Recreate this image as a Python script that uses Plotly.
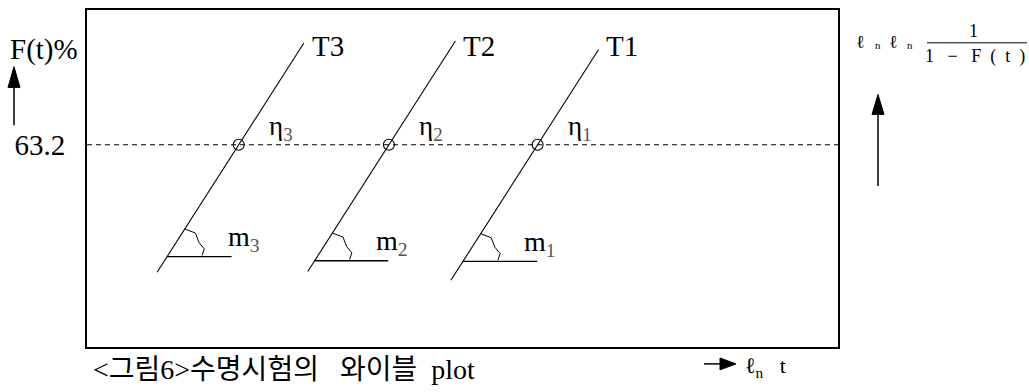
import math
import plotly.graph_objects as go

# Weibull probability plot: ln t on x, ln ln 1/(1-F(t)) on y
series = ["T1", "T2", "T3"]
eta_x = [6.00, 4.02, 2.02]          # ln(eta) for each stress level
slope_m = [1.74, 1.74, 1.74]        # Weibull shape parameter (line slope)
y_top = [1.41, 1.54, 1.51]          # upper end of each fitted line
y_bottom = [-2.01, -1.88, -1.89]    # lower end of each fitted line
y_base = [-1.73, -1.72, -1.66]      # level of the slope reference line
base_len = [0.99, 0.98, 0.86]       # length of the slope reference line
SUB = "<span style='color:#555'>{}</span>"
eta_labels = ["η<sub>" + SUB.format(k) + "</sub>" for k in ("1", "2", "3")]
m_labels = ["m<sub>" + SUB.format(k) + "</sub>" for k in ("1", "2", "3")]
F_level = 63.2                      # F(t) at t = eta, in percent
y_ref = math.log(math.log(1.0 / (1.0 - F_level / 100.0)))

X_RANGE = [0, 10]
Y_RANGE = [-3, 2]

W, H = 1029, 392
ML, MR, MT, MB = 87, 191, 8, 45
PW, PH = W - ML - MR, H - MT - MB
XPX = PW / (X_RANGE[1] - X_RANGE[0])
YPX = PH / (Y_RANGE[1] - Y_RANGE[0])

SERIF = "Liberation Serif, DejaVu Serif, serif"
KFONT = "Liberation Serif, Noto Sans CJK KR, serif"


def px(x):
    """pixel column -> paper x"""
    return (x - ML) / PW


def py(y):
    """pixel row -> paper y"""
    return (H - MB - y) / PH


def line_x(i, y):
    return eta_x[i] + y / slope_m[i]


fig = go.Figure()

# horizontal reference at F(t) = 63.2 %
fig.add_trace(go.Scatter(
    x=X_RANGE, y=[y_ref, y_ref], mode="lines",
    line=dict(color="black", width=1.1, dash="5px,4px"), hoverinfo="skip"))

for i in range(len(series)):
    # fitted Weibull line
    fig.add_trace(go.Scatter(
        x=[line_x(i, y_bottom[i]), line_x(i, y_top[i])],
        y=[y_bottom[i], y_top[i]], mode="lines",
        line=dict(color="black", width=1.1), hoverinfo="skip"))
    # slope reference line and angle arc
    xv = line_x(i, y_base[i])
    fig.add_trace(go.Scatter(
        x=[xv, xv + base_len[i]], y=[y_base[i], y_base[i]], mode="lines",
        line=dict(color="black", width=1.3), hoverinfo="skip"))
    angs = [58, 40, 24, 12, 2]
    rr = [33, 37, 35, 38, 35]
    fig.add_trace(go.Scatter(
        x=[xv + q * math.cos(math.radians(a)) / XPX for a, q in zip(angs, rr)],
        y=[y_base[i] + q * math.sin(math.radians(a)) / YPX for a, q in zip(angs, rr)],
        mode="lines", line=dict(color="black", width=1), hoverinfo="skip"))

# characteristic life points
fig.add_trace(go.Scatter(
    x=eta_x, y=[y_ref] * len(eta_x), mode="markers",
    marker=dict(symbol="circle-open", size=11, color="black",
                line=dict(color="black", width=1.1)),
    hoverinfo="skip"))

ann = []
for i, name in enumerate(series):
    ann.append(dict(x=line_x(i, y_top[i]), y=py(44), xref="x", yref="paper",
                    text=name, showarrow=False, xanchor="left", yanchor="middle",
                    xshift=6, font=dict(family=SERIF, size=29)))
    ann.append(dict(x=eta_x[i], y=y_ref, xref="x", yref="y",
                    text=eta_labels[i], showarrow=False, xanchor="left",
                    yanchor="middle", xshift=28, yshift=17,
                    font=dict(family=SERIF, size=27)))
    xv = line_x(i, y_base[i])
    ann.append(dict(x=xv, y=y_base[i], xref="x", yref="y",
                    text=m_labels[i], showarrow=False, xanchor="left",
                    yanchor="middle", xshift=59, yshift=18,
                    font=dict(family=SERIF, size=28)))

# axis captions outside the frame
ann += [
    dict(x=px(44), y=py(48), xref="paper", yref="paper", text="F(t)%",
         showarrow=False, xanchor="center", yanchor="middle",
         font=dict(family=SERIF, size=29)),
    dict(x=px(743), y=py(367), xref="paper", yref="paper",
         text="ℓ<sub>n</sub>   t", showarrow=False, xanchor="left",
         yanchor="middle", font=dict(family=SERIF, size=22)),
    dict(x=px(91), y=py(370), xref="paper", yref="paper",
         text="&lt;그림6&gt;수명시험의   와이블  plot", showarrow=False,
         xanchor="left", yanchor="middle", font=dict(family=KFONT, size=28)),
]

# y-axis quantity: ln ln 1/(1-F(t))
for xp, t, sz in [(861, "ℓ", 18), (878, "n", 11), (893, "ℓ", 18), (910, "n", 11)]:
    ann.append(dict(x=px(xp), y=py(40 if sz > 12 else 43), xref="paper",
                    yref="paper", text=t, showarrow=False, xanchor="center",
                    yanchor="middle", font=dict(family=SERIF, size=sz)))
ann += [
    dict(x=px(974), y=py(29), xref="paper", yref="paper", text="1",
         showarrow=False, xanchor="center", yanchor="middle",
         font=dict(family=SERIF, size=18)),
    dict(x=px(975), y=py(55), xref="paper", yref="paper",
         text="1   −   F  (  t  )", showarrow=False, xanchor="center",
         yanchor="middle", font=dict(family=SERIF, size=18)),
]

shapes = [
    # fraction bar
    dict(type="line", xref="paper", yref="paper", x0=px(927), x1=px(1027),
         y0=py(41), y1=py(41), line=dict(color="black", width=1)),
    # left up arrow
    dict(type="line", xref="paper", yref="paper", x0=px(14), x1=px(14),
         y0=py(124), y1=py(86), line=dict(color="black", width=1.5)),
    dict(type="path", xref="paper", yref="paper",
         path=f"M{px(8)},{py(86)} L{px(20)},{py(86)} L{px(14)},{py(65)} Z",
         fillcolor="black", line=dict(color="black", width=1)),
    # right up arrow
    dict(type="line", xref="paper", yref="paper", x0=px(878), x1=px(878),
         y0=py(185), y1=py(113), line=dict(color="black", width=1.5)),
    dict(type="path", xref="paper", yref="paper",
         path=f"M{px(872)},{py(113)} L{px(884)},{py(113)} L{px(878)},{py(93)} Z",
         fillcolor="black", line=dict(color="black", width=1)),
    # bottom right arrow
    dict(type="line", xref="paper", yref="paper", x0=px(704), x1=px(720),
         y0=py(364), y1=py(364), line=dict(color="black", width=1.5)),
    dict(type="path", xref="paper", yref="paper",
         path=f"M{px(720)},{py(358)} L{px(720)},{py(370)} L{px(736)},{py(364)} Z",
         fillcolor="black", line=dict(color="black", width=1)),
]

fig.update_layout(
    width=W, height=H,
    margin=dict(l=ML, r=MR, t=MT, b=MB, pad=0),
    paper_bgcolor="white", plot_bgcolor="white",
    font=dict(family=SERIF, color="black"),
    showlegend=False,
    annotations=ann, shapes=shapes,
    xaxis=dict(range=X_RANGE, showline=True, mirror=True, linecolor="black",
               linewidth=2, showgrid=False, zeroline=False, ticks="",
               showticklabels=False, fixedrange=True),
    yaxis=dict(range=Y_RANGE, showline=True, mirror=True, linecolor="black",
               linewidth=2, showgrid=False, zeroline=False, ticks="",
               tickvals=[y_ref], ticktext=["63.2"], ticklabelstandoff=14,
               tickfont=dict(family=SERIF, size=29, color="black"),
               fixedrange=True),
)

fig.write_html("out.html", config={"displayModeBar": False})
